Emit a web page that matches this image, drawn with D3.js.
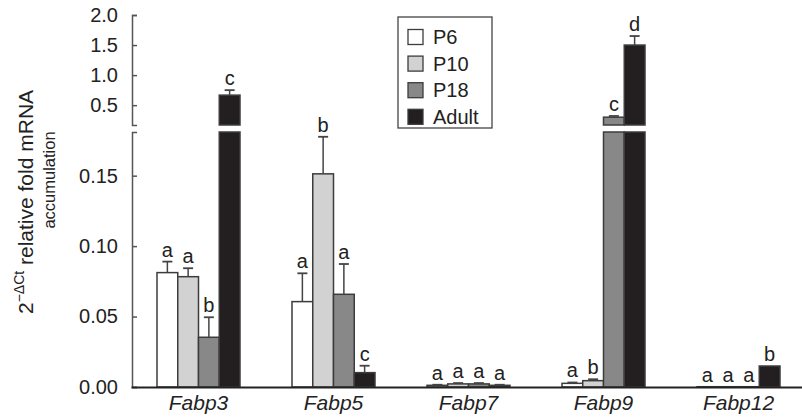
<!DOCTYPE html>
<html lang="en">
<head>
    <meta charset="UTF-8">
    <title>Fabp mRNA accumulation</title>
    <script src="https://d3js.org/d3.v7.min.js"></script>
    <style>
        body { margin: 0; background: #fff; }
        svg { font-family: "Liberation Sans", Arial, sans-serif; }
    </style>
</head>
<body>
    <svg id="chart" width="802" height="418"></svg>

    <script>
        // data
        var genes = ["Fabp3", "Fabp5", "Fabp7", "Fabp9", "Fabp12"];
        var stages = ["P6", "P10", "P18", "Adult"];

        var p6 = [0.0812, 0.0606, 0.0012, 0.0026, 0.0002];
        var p6Err = [0.0078, 0.0201, 0.0004, 0.0006, 0];
        var p10 = [0.0783, 0.1513, 0.0022, 0.0045, 0.0002];
        var p10Err = [0.0060, 0.0263, 0.0006, 0.0010, 0];
        var p18 = [0.0353, 0.0658, 0.0022, 0.30, 0.0002];
        var p18Err = [0.0142, 0.0215, 0.0006, 0.02, 0];
        var adult = [0.667, 0.0102, 0.0012, 1.50, 0.0149];
        var adultErr = [0.083, 0.0049, 0.0004, 0.15, 0];

        var p6Letters = ["a", "a", "a", "a", "a"];
        var p10Letters = ["a", "b", "a", "b", "a"];
        var p18Letters = ["b", "a", "a", "c", "a"];
        var adultLetters = ["c", "c", "a", "d", "b"];

        var lowTicks = [0, 0.05, 0.10, 0.15];
        var highTicks = [0.5, 1.0, 1.5, 2.0];
        var lowMax = 0.181, highMin = 0.17, highMax = 2.0;

        var colors = {P6: "#ffffff", P10: "#d2d2d2", P18: "#888888", Adult: "#231f20"};

        var series = [
            {stage: "P6", values: p6, errs: p6Err, letters: p6Letters},
            {stage: "P10", values: p10, errs: p10Err, letters: p10Letters},
            {stage: "P18", values: p18, errs: p18Err, letters: p18Letters},
            {stage: "Adult", values: adult, errs: adultErr, letters: adultLetters}
        ];

        var rows = [];
        series.forEach(function(s) {
            genes.forEach(function(g, i) {
                rows.push({gene: g, stage: s.stage, value: s.values[i], err: s.errs[i], letter: s.letters[i]});
            });
        });

        var svg = d3.select("#chart");
        var axisX = 132, baseY = 387;

        var x0 = d3.scaleBand().domain(genes).range([131, 806]);
        var groupW = 83;
        var x1 = d3.scaleBand().domain(stages).range([0, groupW]);
        var groupOff = (x0.bandwidth() - groupW) / 2;

        var yLo = d3.scaleLinear().domain([0, lowMax]).range([baseY, 132]);
        var yHi = d3.scaleLinear().domain([highMin, highMax]).range([125, 15]);

        function yOf(v) { return v > lowMax ? yHi(v) : yLo(v); }
        function bx(d) { return x0(d.gene) + groupOff + x1(d.stage); }

        var bars = svg.append("g");
        rows.forEach(function(d) {
            var x = bx(d), w = x1.bandwidth();
            var top = Math.min(d.value, lowMax);
            bars.append("rect")
                .attr("x", x).attr("width", w)
                .attr("y", yLo(top)).attr("height", yLo(0) - yLo(top))
                .attr("fill", colors[d.stage])
                .attr("stroke", "#3c3c3c").attr("stroke-width", 1.5);
            if (d.value > lowMax) {
                bars.append("rect")
                    .attr("x", x).attr("width", w)
                    .attr("y", yHi(d.value)).attr("height", yHi(highMin) - yHi(d.value))
                    .attr("fill", colors[d.stage])
                    .attr("stroke", "#3c3c3c").attr("stroke-width", 1.5);
            }
            var cx = x + w / 2;
            var eTop = yOf(d.value + d.err);
            if (d.err > 0) {
                bars.append("line")
                    .attr("x1", cx).attr("x2", cx)
                    .attr("y1", yOf(d.value)).attr("y2", eTop)
                    .attr("stroke", "#444").attr("stroke-width", 1.5);
                bars.append("line")
                    .attr("x1", cx - 5).attr("x2", cx + 5)
                    .attr("y1", eTop).attr("y2", eTop)
                    .attr("stroke", "#444").attr("stroke-width", 1.8);
            }
            bars.append("text")
                .attr("x", cx).attr("y", eTop - 5)
                .attr("text-anchor", "middle")
                .attr("font-size", 20)
                .attr("fill", "#222")
                .text(d.letter);
        });

        // y axes (lower + upper segment), ticks pointing inward
        var lowAxis = svg.append("g")
            .attr("transform", "translate(" + axisX + ",0)")
            .call(d3.axisLeft(yLo).tickValues(lowTicks).tickFormat(d3.format(".2f"))
                .tickSizeInner(-5).tickSizeOuter(-5).tickPadding(14));
        var highAxis = svg.append("g")
            .attr("transform", "translate(" + axisX + ",0)")
            .call(d3.axisLeft(yHi).tickValues(highTicks).tickFormat(d3.format(".1f"))
                .tickSizeInner(-5).tickSizeOuter(-5).tickPadding(14));
        [lowAxis, highAxis].forEach(function(a) {
            a.selectAll("path, line").attr("stroke", "#555").attr("stroke-width", 1.5);
            a.selectAll("text").attr("font-size", 20).attr("fill", "#222")
                .attr("font-family", "Liberation Sans, Arial, sans-serif");
        });

        // x axis
        var xAxis = svg.append("g")
            .attr("transform", "translate(0," + baseY + ")")
            .call(d3.axisBottom(x0).tickSize(0).tickPadding(8));
        xAxis.select(".domain").attr("stroke", "#222").attr("stroke-width", 2.2);
        xAxis.selectAll("text")
            .attr("font-size", 21).attr("font-style", "italic").attr("fill", "#222")
            .attr("font-family", "Liberation Sans, Arial, sans-serif");

        // y label
        var lab1 = svg.append("text")
            .attr("transform", "translate(33,202) rotate(-90)")
            .attr("text-anchor", "middle")
            .attr("font-size", 21).attr("fill", "#222");
        lab1.append("tspan").text("2");
        lab1.append("tspan").attr("font-size", 14).attr("dy", -9).text("\u2212\u0394Ct");
        lab1.append("tspan").attr("dy", 9).text(" relative fold mRNA");
        svg.append("text")
            .attr("transform", "translate(55,180) rotate(-90)")
            .attr("text-anchor", "middle")
            .attr("font-size", 16.5).attr("fill", "#222")
            .text("accumulation");

        // legend
        var legend = svg.append("g");
        legend.append("rect")
            .attr("x", 398).attr("y", 17).attr("width", 94).attr("height", 111)
            .attr("fill", "#fff").attr("stroke", "#444").attr("stroke-width", 1.3);
        stages.forEach(function(s, i) {
            var cy = 37 + i * 26.6;
            legend.append("rect")
                .attr("x", 408).attr("y", cy - 7.5).attr("width", 15).attr("height", 15)
                .attr("fill", colors[s]).attr("stroke", "#3c3c3c").attr("stroke-width", 1.3);
            legend.append("text")
                .attr("x", 433).attr("y", cy + 7)
                .attr("font-size", 20).attr("fill", "#222")
                .text(s);
        });
    </script>
</body>
</html>
